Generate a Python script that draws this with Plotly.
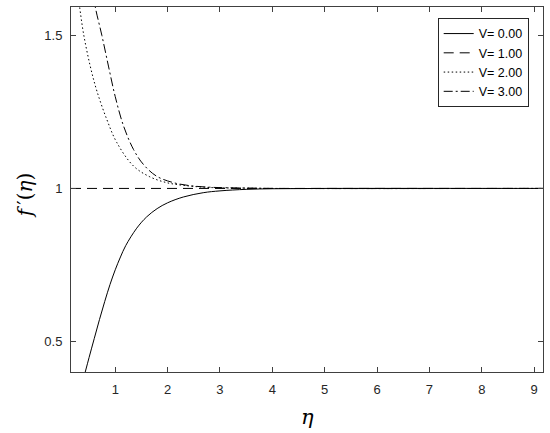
import plotly.graph_objects as go

# Data
eta_v0 = [0.427, 0.5, 0.6, 0.7, 0.8, 0.9, 1.0, 1.1, 1.2, 1.41, 1.6, 1.8, 2.0, 2.3, 2.68, 3.0, 3.5, 4.0, 4.5, 5.0, 9.17]
fp_v0 = [0.40, 0.447, 0.510, 0.572, 0.631, 0.686, 0.734, 0.776, 0.813, 0.870, 0.907, 0.934, 0.953, 0.972, 0.986, 0.992, 0.997, 0.999, 0.9995, 1.0, 1.0]

eta_v1 = [0.155, 9.17]
fp_v1 = [1.0, 1.0]

eta_v2 = [0.29, 0.318, 0.395, 0.522, 0.65, 0.84, 1.03, 1.35, 1.66, 1.98, 2.3, 2.7, 3.0, 3.5, 4.0, 9.17]
fp_v2 = [1.63, 1.595, 1.505, 1.40, 1.318, 1.225, 1.150, 1.073, 1.038, 1.019, 1.010, 1.004, 1.002, 1.001, 1.0, 1.0]

eta_v3 = [0.59, 0.617, 0.745, 0.87, 1.0, 1.157, 1.35, 1.54, 1.79, 2.11, 2.43, 2.8, 3.2, 3.6, 4.0, 9.17]
fp_v3 = [1.635, 1.595, 1.5, 1.4, 1.30, 1.205, 1.127, 1.078, 1.040, 1.019, 1.009, 1.004, 1.002, 1.001, 1.0, 1.0]

names = ["V= 0.00", "V= 1.00", "V= 2.00", "V= 3.00"]
x_ticks = [1, 2, 3, 4, 5, 6, 7, 8, 9]
y_ticks = [0.5, 1, 1.5]
y_tick_text = ["0.5", "1", "1.5"]

series = [(eta_v0, fp_v0, "solid"), (eta_v1, fp_v1, "10px,6px"),
          (eta_v2, fp_v2, "1.5px,2.5px"), (eta_v3, fp_v3, "9px,3px,2px,3px")]

fig = go.Figure()
for (x, y, dash), name in zip(series, names):
    fig.add_trace(go.Scatter(x=x, y=y, mode="lines", name=name,
                             line=dict(color="black", width=1, dash=dash, shape="spline")))

axis_common = dict(showline=True, linecolor="#404040", linewidth=1, mirror="ticks",
                   ticks="inside", ticklen=5, tickcolor="#404040", showgrid=False,
                   zeroline=False, tickfont=dict(family="Liberation Sans, Arial", size=13, color="#262626"))

fig.update_layout(
    width=550, height=433,
    margin=dict(l=71, r=7, t=7, b=61),
    paper_bgcolor="white", plot_bgcolor="white",
    xaxis=dict(range=[0.155, 9.17], tickvals=x_ticks, ticklabelstandoff=5, **axis_common),
    yaxis=dict(range=[0.4, 1.593], tickvals=y_ticks, ticktext=y_tick_text, ticklabelstandoff=5, **axis_common),
    legend=dict(x=0.9697, y=0.97, xanchor="right", yanchor="top",
                bordercolor="#262626", borderwidth=1, bgcolor="white",
                font=dict(family="Liberation Sans, Arial", size=12.5, color="black"),
                itemwidth=30, tracegroupgap=0),
    showlegend=True,
    annotations=[
        dict(text="<i>f</i>\u2009′(<i>η</i>)", xref="paper", yref="paper", x=-0.097, y=0.485,
             xanchor="center", yanchor="middle", textangle=-90, showarrow=False,
             font=dict(family="DejaVu Serif", size=20, color="black")),
        dict(text="<i>η</i>", xref="paper", yref="paper", x=0.5, y=-0.122,
             xanchor="center", yanchor="middle", showarrow=False,
             font=dict(family="DejaVu Serif", size=21, color="black")),
    ],
)

fig.write_html("out.html", config={"displayModeBar": False},
               post_script="document.body.style.margin='0';")
